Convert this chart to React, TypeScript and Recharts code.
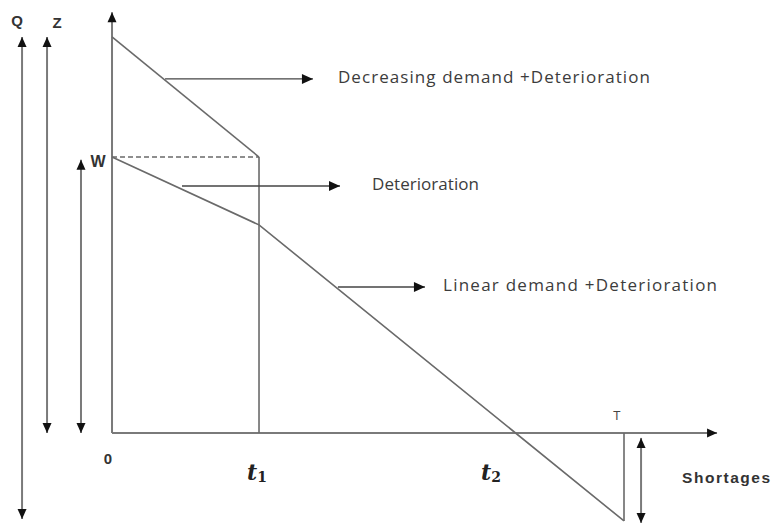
import React from "react";
import { ComposedChart, Line, XAxis, YAxis, ReferenceLine, ReferenceDot } from "recharts";

// time marks, t1 taken as one unit
const tickTimes = [0, 1, 2.745, 3.483];
const tickNames = ["0", "t1", "t2", "T"];

// stock in rented warehouse (above W), W = 1
const rentedStock = [
  { t: 0, q: 1.435 },
  { t: 1, q: 1 },
];

// stock in own warehouse, goes into shortage after t2
const ownStock = [
  { t: 0, q: 1 },
  { t: 1, q: 0.754 },
  { t: 3.483, q: -0.319 },
];

const notes = ["Decreasing demand +Deterioration", "Deterioration", "Linear demand +Deterioration"];
const noteLevels = [1.283, 0.895, 0.529];
const levelNames = ["Q", "Z", "W"];

const LINE = "#6a6a6a";
const AXIS = "#7a7a7a";

function arrow(both = false, head = 10, half = 4.5) {
  return (p: any) => {
    const { x1, y1, x2, y2 } = p;
    const dx = x2 - x1;
    const dy = y2 - y1;
    const len = Math.hypot(dx, dy) || 1;
    const ux = dx / len;
    const uy = dy / len;
    const tri = (tx: number, ty: number, ax: number, ay: number) =>
      `${tx},${ty} ${tx - ax * head - ay * half},${ty - ay * head + ax * half} ${tx - ax * head + ay * half},${ty - ay * head - ax * half}`;
    return (
      <g>
        <line x1={x1} y1={y1} x2={x2} y2={y2} stroke={p.stroke} strokeWidth={p.strokeWidth} />
        <polygon points={tri(x2, y2, ux, uy)} fill="#111" />
        {both && <polygon points={tri(x1, y1, -ux, -uy)} fill="#111" />}
      </g>
    );
  };
}

function txt(content: React.ReactNode, style: any) {
  return (p: any) => (
    <text x={p.cx} y={p.cy} dominantBaseline="central" {...style}>
      {content}
    </text>
  );
}

const bold = { fontFamily: "Liberation Sans, Arial, sans-serif", fontWeight: 700, fill: "#333", textAnchor: "middle" };
const noteStyle = { fontFamily: "Open Sans, sans-serif", fontSize: 17, fill: "#3c3c3c", textAnchor: "start", lengthAdjust: "spacing" };

function tLabel(name: string) {
  if (name === "0") return txt("0", { ...bold, fontSize: 15 });
  if (name === "T") return txt("T", { fontFamily: "Open Sans, sans-serif", fontSize: 13, fill: "#444", textAnchor: "middle" });
  return txt(
    <>
      <tspan fontStyle="italic">{name[0]}</tspan>
      <tspan fontSize={14} dy={5}>{name.slice(1)}</tspan>
    </>,
    { fontFamily: "DejaVu Serif, serif", fontWeight: 700, fontSize: 22, fill: "#222", textAnchor: "middle" }
  );
}

export default function App() {
  const T = tickTimes[3];
  const tickPos = [
    { x: -0.027, y: -0.091 },
    { x: 0.986, y: -0.14 },
    { x: 2.578, y: -0.14 },
    { x: 3.435, y: 0.065 },
  ];
  const noteX = [1.537, 1.769, 2.252];
  const noteLen = [312, 107, 274];
  const arrowFrom = [0.361, 0.476, 1.537];
  const arrowTo = [1.367, 1.551, 2.129];
  const levelPos = [
    { x: -0.646, y: 1.493 },
    { x: -0.374, y: 1.489 },
    { x: -0.095, y: 0.982 },
  ];

  return (
    <div style={{ position: "absolute", left: 0, top: 0, width: 771, height: 524, background: "#fff" }}>
      <ComposedChart width={771} height={524} margin={{ top: 0, right: 0, bottom: 0, left: 0 }}>
        <XAxis type="number" dataKey="t" domain={[-0.762, 4.483]} allowDataOverflow hide />
        <YAxis type="number" dataKey="q" domain={[-0.33, 1.569]} allowDataOverflow hide />

        {/* main axes */}
        <ReferenceLine segment={[{ x: 0, y: 0 }, { x: 0, y: 1.525 }]} stroke={AXIS} strokeWidth={2} shape={arrow()} />
        <ReferenceLine segment={[{ x: 0, y: 0 }, { x: 4.116, y: 0 }]} stroke={AXIS} strokeWidth={2} shape={arrow()} />

        {/* level arrows Q, Z, W */}
        <ReferenceLine segment={[{ x: -0.612, y: -0.312 }, { x: -0.612, y: 1.435 }]} stroke={AXIS} strokeWidth={2} shape={arrow(true)} />
        <ReferenceLine segment={[{ x: -0.442, y: 0 }, { x: -0.442, y: 1.435 }]} stroke={AXIS} strokeWidth={2} shape={arrow(true)} />
        <ReferenceLine segment={[{ x: -0.211, y: 0 }, { x: -0.211, y: 0.99 }]} stroke={AXIS} strokeWidth={2} shape={arrow(true)} />

        {/* W level and verticals */}
        <ReferenceLine segment={[{ x: 0, y: 1 }, { x: tickTimes[1], y: 1 }]} stroke={LINE} strokeWidth={1.3} strokeDasharray="5 3" />
        <ReferenceLine segment={[{ x: tickTimes[1], y: 1 }, { x: tickTimes[1], y: 0 }]} stroke={LINE} strokeWidth={1.6} />
        <ReferenceLine segment={[{ x: T, y: 0 }, { x: T, y: ownStock[2].q }]} stroke={LINE} strokeWidth={1.6} />

        {/* shortages arrow */}
        <ReferenceLine segment={[{ x: 3.599, y: -0.018 }, { x: 3.599, y: -0.326 }]} stroke={AXIS} strokeWidth={2} shape={arrow(true)} />

        <Line data={rentedStock} dataKey="q" stroke={LINE} strokeWidth={1.6} dot={false} activeDot={false} isAnimationActive={false} />
        <Line data={ownStock} dataKey="q" stroke={LINE} strokeWidth={1.6} dot={false} activeDot={false} isAnimationActive={false} />

        {/* annotation arrows and notes */}
        {notes.map((n, i) => (
          <ReferenceLine
            key={"a" + i}
            segment={[{ x: arrowFrom[i], y: noteLevels[i] }, { x: arrowTo[i], y: noteLevels[i] }]}
            stroke="#444"
            strokeWidth={1.4}
            shape={arrow(false, 11, 5)}
          />
        ))}
        {notes.map((n, i) => (
          <ReferenceDot
            key={"n" + i}
            x={noteX[i]}
            y={noteLevels[i] + 0.01}
            shape={txt(n, { ...noteStyle, textLength: noteLen[i] })}
          />
        ))}

        {levelNames.map((n, i) => (
          <ReferenceDot key={"l" + i} x={levelPos[i].x} y={levelPos[i].y} shape={txt(n, { ...bold, fontSize: n === "W" ? 16 : 15 })} />
        ))}

        {tickNames.map((n, i) => (
          <ReferenceDot key={"t" + i} x={tickPos[i].x} y={tickPos[i].y} shape={tLabel(n)} />
        ))}

        <ReferenceDot x={3.878} y={-0.163} shape={txt("Shortages", { ...bold, fontSize: 15.5, textAnchor: "start", textLength: 88 })} />
      </ComposedChart>
    </div>
  );
}
